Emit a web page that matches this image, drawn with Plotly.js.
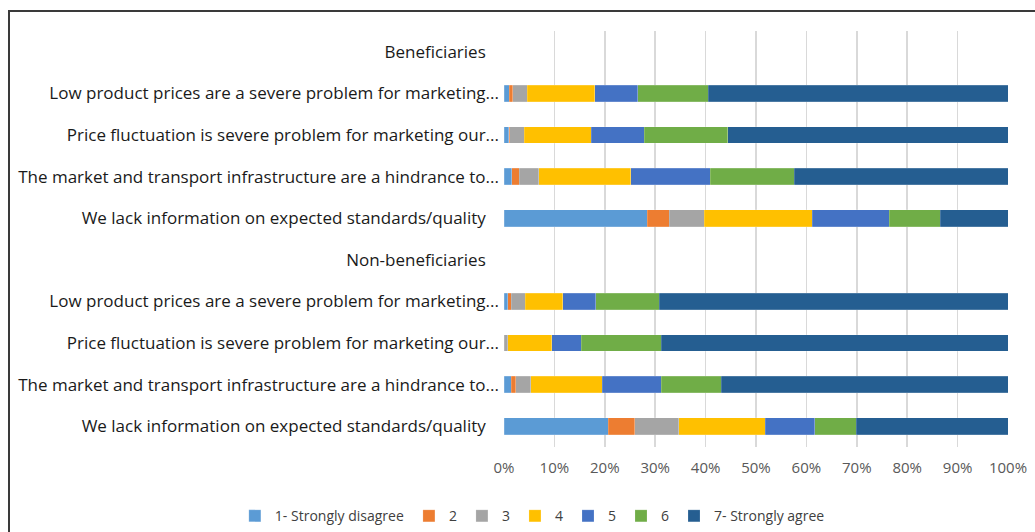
<!DOCTYPE html>
<html>
<head>
<meta charset="utf-8">
<script src="https://cdn.plot.ly/plotly-3.0.1.min.js"></script>
<style>
  body { margin: 0; padding: 0; background: #fff; }
  #chart { position: absolute; left: 0; top: 0; width: 1035px; height: 532px; }
  #frame { position: absolute; left: 8px; top: 10px; width: 1040px; height: 540px;
           border-left: 2px solid #3a3a3a; border-top: 2px solid #3a3a3a; pointer-events: none; }
</style>
</head>
<body>
<div id="chart"></div>
<div id="frame"></div>
<script>
// row labels, top to bottom (the two group headers have no bars)
var rowLabels = [
	"Beneficiaries\u00a0\u00a0\u00a0",
	"Low product prices are a severe problem for marketing...",
	"Price fluctuation is severe problem for marketing our...",
	"The market and transport infrastructure are a hindrance to...",
	"We lack information on expected standards/quality\u00a0\u00a0\u00a0",
	"Non-beneficiaries\u00a0\u00a0\u00a0",
	"Low product prices are a severe problem for marketing...",
	"Price fluctuation is severe problem for marketing our...",
	"The market and transport infrastructure are a hindrance to...",
	"We lack information on expected standards/quality\u00a0\u00a0\u00a0"
];

var seriesNames = ["1- Strongly disagree", "2", "3", "4", "5", "6", "7- Strongly agree"];
var seriesColors = ["#5B9BD5", "#ED7D31", "#A5A5A5", "#FFC000", "#4472C4", "#70AD47", "#255E91"];

// percent per answer, one array per row
var benLowPrices   = [1.0, 0.7, 2.9, 13.4, 8.5, 14.0, 59.5];
var benFluctuation = [0.9, 0.2, 2.9, 13.3, 10.5, 16.6, 55.6];
var benInfra       = [1.5, 1.5, 3.9, 18.2, 15.8, 16.7, 42.4];
var benInfo        = [28.4, 4.4, 6.9, 21.5, 15.2, 10.2, 13.4];
var nonLowPrices   = [0.7, 0.7, 2.8, 7.5, 6.5, 12.6, 69.2];
var nonFluctuation = [0.0, 0.0, 0.7, 8.8, 5.8, 15.9, 68.8];
var nonInfra       = [1.4, 0.9, 3.0, 14.2, 11.7, 11.9, 56.9];
var nonInfo        = [20.7, 5.2, 8.8, 17.1, 9.9, 8.2, 30.1];

var rows = [null, benLowPrices, benFluctuation, benInfra, benInfo,
            null, nonLowPrices, nonFluctuation, nonInfra, nonInfo];

var ypos = [];
for(var i = 0; i < rowLabels.length; i++){
	ypos.push(i);
}

var pdata = [];
for(var s = 0; s < seriesNames.length; s++){
	var xs = [];
	var ys = [];
	for(var r = 0; r < rows.length; r++){
		if(rows[r]){
			xs.push(rows[r][s]);
			ys.push(r);
		}
	}
	pdata.push({
		x: xs,
		y: ys,
		type: 'bar',
		orientation: 'h',
		name: seriesNames[s],
		marker: { color: seriesColors[s], line: { color: 'rgba(255,255,255,0.35)', width: 0.5 } },
		hoverinfo: 'x+name'
	});
}

var layout = {
	width: 1035,
	height: 532,
	barmode: 'stack',
	bargap: 0.6,
	paper_bgcolor: '#fff',
	plot_bgcolor: '#fff',
	margin: { l: 504, r: 27, t: 31, b: 85, autoexpand: false },
	font: { family: 'Open Sans, Liberation Sans, sans-serif', size: 15, color: '#1a1a1a' },
	xaxis: {
		range: [0, 100],
		tickvals: [0, 10, 20, 30, 40, 50, 60, 70, 80, 90, 100],
		ticktext: ['0%', '10%', '20%', '30%', '40%', '50%', '60%', '70%', '80%', '90%', '100%'],
		showgrid: true,
		gridcolor: '#d9d9d9',
		gridwidth: 1.5,
		zeroline: false,
		showline: false,
		ticks: '',
		ticklabelstandoff: 10,
		tickfont: { size: 15, color: '#595959' }
	},
	yaxis: {
		range: [9.5, -0.5],
		tickvals: ypos,
		ticktext: rowLabels,
		showgrid: false,
		zeroline: false,
		showline: false,
		ticks: '',
		ticklabelstandoff: 4,
		tickfont: { size: 17, color: '#1a1a1a' }
	},
	showlegend: true,
	legend: {
		orientation: 'h',
		x: -0.534,
		xanchor: 'left',
		y: -0.128,
		yanchor: 'top',
		traceorder: 'normal',
		font: { size: 14, color: '#404040' },
		itemwidth: 30,
		tracegroupgap: 0
	}
};

Plotly.newPlot('chart', pdata, layout, { displayModeBar: false, staticPlot: true });
</script>
</body>
</html>
